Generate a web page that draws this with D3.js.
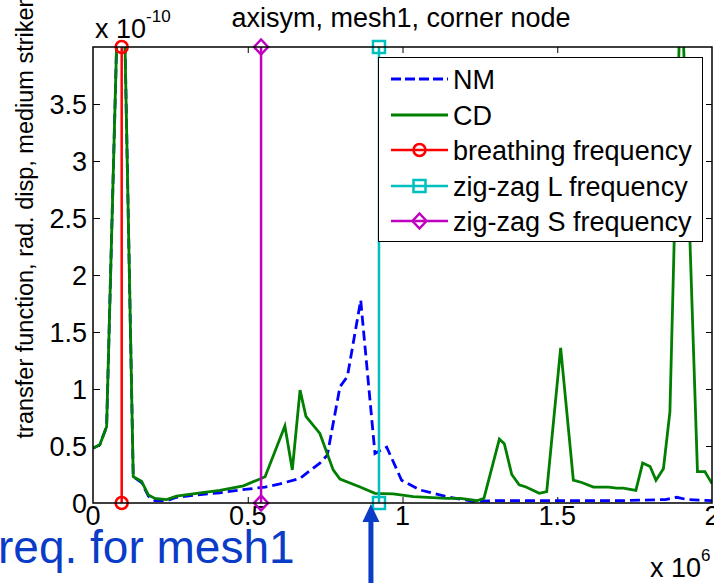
<!DOCTYPE html>
<html>
<head>
<meta charset="utf-8">
<script src="https://cdn.jsdelivr.net/npm/d3@7/dist/d3.min.js"></script>
<style>
  html, body { margin: 0; padding: 0; background: #fff; }
  svg { display: block; }
  text { font-family: "Liberation Sans", Arial, Helvetica, sans-serif; fill: #000; }
</style>
</head>
<body>
<svg id="chart" width="714" height="583"></svg>
<script>
// ---- data (frequency in 1e6, transfer function in 1e-10) ----
const titleText = "axisym, mesh1, corner node";
const yLabelText = "transfer function, rad. disp, medium striker";
const xTickValues = [0, 0.5, 1, 1.5, 2];
const xTickLabels = ["0", "0.5", "1", "1.5", "2"];
const yTickValues = [0, 0.5, 1, 1.5, 2, 2.5, 3, 3.5];
const yTickLabels = ["0", "0.5", "1", "1.5", "2", "2.5", "3", "3.5"];

const nmFreq = [0, 0.022, 0.044, 0.092, 0.130, 0.157, 0.179, 0.20, 0.238, 0.27, 0.335, 0.41, 0.475, 0.556, 0.604, 0.669, 0.733, 0.757, 0.798, 0.822, 0.865, 0.869, 0.911, 0.949, 0.997, 1.057, 1.143, 1.229, 1.30, 1.5, 1.7, 1.85, 1.886, 1.92, 2.0];
const nmValues = [0.48, 0.51, 0.67, 5.65, 0.23, 0.18, 0.06, 0.02, 0.02, 0.05, 0.07, 0.09, 0.114, 0.14, 0.167, 0.217, 0.35, 0.42, 1.02, 1.11, 1.78, 1.66, 0.435, 0.49, 0.20, 0.114, 0.055, 0.015, 0.02, 0.02, 0.02, 0.03, 0.05, 0.03, 0.02];

const cdFreq = [0, 0.022, 0.044, 0.092, 0.130, 0.157, 0.179, 0.20, 0.238, 0.27, 0.335, 0.41, 0.486, 0.556, 0.620, 0.644, 0.669, 0.688, 0.733, 0.776, 0.798, 0.863, 0.911, 0.970, 1.035, 1.143, 1.186, 1.218, 1.24, 1.263, 1.313, 1.329, 1.353, 1.377, 1.399, 1.442, 1.466, 1.511, 1.552, 1.579, 1.617, 1.665, 1.692, 1.713, 1.754, 1.776, 1.80, 1.819, 1.843, 1.864, 1.90, 1.953, 1.977, 2.0];
const cdValues = [0.48, 0.51, 0.67, 5.65, 0.23, 0.19, 0.07, 0.04, 0.03, 0.06, 0.085, 0.11, 0.15, 0.23, 0.675, 0.29, 0.99, 0.76, 0.61, 0.29, 0.21, 0.14, 0.085, 0.08, 0.055, 0.04, 0.04, 0.03, 0.02, 0.04, 0.56, 0.52, 0.25, 0.16, 0.14, 0.085, 0.10, 1.36, 0.20, 0.18, 0.14, 0.14, 0.13, 0.13, 0.11, 0.35, 0.32, 0.20, 0.30, 0.80, 4.7, 0.275, 0.275, 0.17];

const markerNames = ["breathing frequency", "zig-zag L frequency", "zig-zag S frequency"];
const markerFreq = [0.0927, 0.924, 0.543];
const markerLow = [0, 0, 0];
const markerHigh = [4, 4, 4];

const legendNames = ["NM", "CD", "breathing frequency", "zig-zag L frequency", "zig-zag S frequency"];
const annotationText = "req. for mesh1";
const annotationFreq = 0.898;

// ---- styles ----
const colNM = "#0000ff", colCD = "#007f00";
const markerColors = ["#ff0000", "#00bfbf", "#bf00bf"];
const markerShapes = ["circle", "square", "diamond"];
const FS = 27;

const svg = d3.select("#chart");
const L = 93, R = 712, T = 47, B = 503;
const x = d3.scaleLinear().domain([0, 2]).range([L, R]);
const y = d3.scaleLinear().domain([0, 4]).range([B, T]);

svg.append("defs").append("clipPath").attr("id", "plotclip")
  .append("rect").attr("x", L).attr("y", T).attr("width", R - L).attr("height", B - T);

// axes ticks (inside, MATLAB style)
const axB = d3.axisBottom(x).tickValues([0.5, 1, 1.5]).tickSize(-6).tickFormat("");
const axT = d3.axisTop(x).tickValues([0.5, 1, 1.5]).tickSize(-6).tickFormat("");
const axL = d3.axisLeft(y).tickValues(yTickValues.slice(1)).tickSize(-7).tickFormat("");
const axR = d3.axisRight(y).tickValues(yTickValues.slice(1)).tickSize(-6).tickFormat("");
function styleAx(g) { g.select(".domain").remove(); g.selectAll("line").attr("stroke", "#000").attr("stroke-width", 1); }
svg.append("g").attr("transform", `translate(0,${B})`).call(axB).call(styleAx);
svg.append("g").attr("transform", `translate(0,${T})`).call(axT).call(styleAx);
svg.append("g").attr("transform", `translate(${L},0)`).call(axL).call(styleAx);
svg.append("g").attr("transform", `translate(${R},0)`).call(axR).call(styleAx);

// tick labels
svg.append("g").selectAll("text").data(xTickValues).join("text")
  .attr("x", d => x(d)).attr("y", 525).attr("text-anchor", "middle")
  .attr("font-size", FS).text((d, i) => xTickLabels[i]);
svg.append("g").selectAll("text").data(yTickValues).join("text")
  .attr("x", 87).attr("y", d => y(d) + 9.5).attr("text-anchor", "end")
  .attr("font-size", FS).text((d, i) => yTickLabels[i]);

// curves
const plot = svg.append("g").attr("clip-path", "url(#plotclip)");
const line = d3.line().x(d => x(d[0])).y(d => y(d[1]));
plot.append("path").datum(nmFreq.map((f, i) => [f, nmValues[i]]))
  .attr("d", line).attr("fill", "none").attr("stroke", colNM)
  .attr("stroke-width", 2.8).attr("stroke-dasharray", "10,5");
plot.append("path").datum(cdFreq.map((f, i) => [f, cdValues[i]]))
  .attr("d", line).attr("fill", "none").attr("stroke", colCD)
  .attr("stroke-width", 2.8);

function drawMarker(g, shape, cx, cy, color) {
  if (shape === "circle") {
    g.append("circle").attr("cx", cx).attr("cy", cy).attr("r", 6)
      .attr("fill", "none").attr("stroke", color).attr("stroke-width", 2.5);
  } else if (shape === "square") {
    g.append("rect").attr("x", cx - 6).attr("y", cy - 6).attr("width", 12).attr("height", 12)
      .attr("fill", "none").attr("stroke", color).attr("stroke-width", 2.5);
  } else {
    g.append("path").attr("d", `M${cx},${cy - 7.5}L${cx + 7},${cy}L${cx},${cy + 7.5}L${cx - 7},${cy}Z`)
      .attr("fill", "none").attr("stroke", color).attr("stroke-width", 2.5);
  }
}

// vertical frequency lines
const vg = svg.append("g");
markerFreq.forEach((f, i) => {
  vg.append("line").attr("x1", x(f)).attr("x2", x(f)).attr("y1", y(markerLow[i])).attr("y2", y(markerHigh[i]))
    .attr("stroke", markerColors[i]).attr("stroke-width", 2.5);
  drawMarker(vg, markerShapes[i], x(f), y(markerLow[i]), markerColors[i]);
  drawMarker(vg, markerShapes[i], x(f), y(markerHigh[i]), markerColors[i]);
});

// frame
svg.append("rect").attr("x", L).attr("y", T).attr("width", R - L).attr("height", B - T)
  .attr("fill", "none").attr("stroke", "#000").attr("stroke-width", 1.5);

// legend
const lg = svg.append("g");
lg.append("rect").attr("x", 378.5).attr("y", 57.5).attr("width", 324).attr("height", 184)
  .attr("fill", "#fff").attr("stroke", "#000").attr("stroke-width", 1);
const rowY = [79, 115, 150, 186, 221];
legendNames.forEach((name, i) => {
  const yy = rowY[i];
  let color, dash = null, shape = null;
  if (i === 0) { color = colNM; dash = "10,4"; }
  else if (i === 1) { color = colCD; }
  else { color = markerColors[i - 2]; shape = markerShapes[i - 2]; }
  const ln = lg.append("line").attr("x1", 391).attr("x2", 448).attr("y1", yy).attr("y2", yy)
    .attr("stroke", color).attr("stroke-width", i < 2 ? 2.8 : 2.5);
  if (dash) ln.attr("stroke-dasharray", dash);
  if (shape) drawMarker(lg, shape, 419.5, yy, color);
  lg.append("text").attr("x", 453).attr("y", yy + 10).attr("font-size", FS).text(name);
});

// title and labels
svg.append("text").attr("x", 401).attr("y", 27).attr("text-anchor", "middle")
  .attr("font-size", FS).text(titleText);
svg.append("text").attr("transform", "translate(33,219) rotate(-90)").attr("text-anchor", "middle")
  .attr("font-size", 23.5).text(yLabelText);

const e1 = svg.append("text").attr("x", 95).attr("y", 38).attr("font-size", FS);
e1.append("tspan").text("x 10");
e1.append("tspan").attr("dy", -16).attr("font-size", 17).text("-10");

const e2 = svg.append("text").attr("x", 650).attr("y", 577).attr("font-size", FS);
e2.append("tspan").text("x 10");
e2.append("tspan").attr("dy", -16).attr("font-size", 17).text("6");

// annotation
svg.append("text").attr("x", -2).attr("y", 563).attr("font-size", 46)
  .style("fill", "#0a3cc8").text(annotationText);
const ax = x(annotationFreq);
svg.append("line").attr("x1", ax).attr("x2", ax).attr("y1", 518).attr("y2", 583)
  .attr("stroke", "#0a3cc8").attr("stroke-width", 5);
svg.append("path").attr("d", `M${ax},504L${ax + 8.5},522L${ax - 8.5},522Z`).attr("fill", "#0a3cc8");
</script>
</body>
</html>
